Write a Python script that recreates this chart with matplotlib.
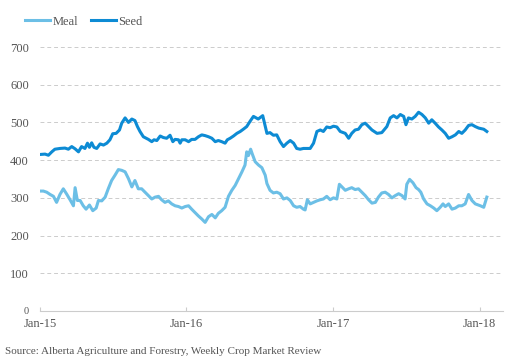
import numpy as np
import pandas as pd
import matplotlib
matplotlib.use("Agg")
import matplotlib.pyplot as plt
import matplotlib.dates as mdates

# Semanas desde el 1 de enero de 2015 y precios ($/t)
SEED_WEEKS = [0, 1.8, 3.0, 4.2, 5.3, 7.1, 8.9, 10.1, 11.3, 12.5, 13.7, 14.8, 16.0, 16.9,
              17.6, 18.4, 19.2, 20.2, 21.4, 22.6, 23.8, 24.9, 25.9, 27.1, 28.3, 29.1,
              30.3, 31.5, 32.7, 33.8, 34.7, 35.6, 36.8, 38.6, 39.8, 40.6, 41.6, 42.8,
              43.9, 45.1, 46.3, 47.3, 48.1, 49.3, 49.9, 50.5, 51.7, 52.9, 54.0, 55.2,
              56.4, 57.6, 58.8, 60.0, 61.2, 62.4, 63.5, 64.7, 65.9, 66.7, 67.7, 68.9,
              70.1, 71.3, 72.4, 73.6, 74.8, 76.0, 77.7, 79.3, 80.8, 81.9, 83.1, 84.3,
              85.5, 86.7, 87.9, 89.1, 90.3, 91.4, 92.6, 93.8, 95.0, 96.2, 97.4, 98.6,
              99.8, 100.9, 102.1, 103.3, 104.5, 105.7, 106.9, 108.7, 109.9, 111.0,
              112.2, 113.4, 114.6, 115.8, 117.0, 118.2, 120.0, 121.7, 123.5, 124.7,
              125.9, 127.1, 128.3, 129.5, 130.3, 131.2, 132.4, 133.6, 134.8, 136.0,
              137.2, 138.4, 139.5, 140.7, 141.9, 143.1, 144.3, 145.5, 146.7, 147.9,
              149.1, 150.2, 151.4, 152.6, 153.8, 155.0, 156.2, 158.0, 159.1]
SEED = [415, 416, 413, 422, 429, 431, 432, 429, 436, 430, 422, 436, 431, 445,
        434, 446, 434, 431, 443, 440, 445, 454, 470, 471, 480, 498,
        512, 500, 509, 505, 489, 476, 462, 455, 449, 454, 452, 464,
        460, 458, 466, 449, 455, 454, 445, 454, 454, 449, 455, 455,
        462, 467, 465, 462, 458, 449, 452, 449, 445, 454, 458, 464,
        471, 476, 482, 489, 503, 516, 509, 518, 471, 473, 466, 467,
        449, 436, 445, 452, 445, 431, 429, 431, 431, 431, 445, 476,
        480, 476, 488, 486, 490, 488, 476, 471, 458, 471,
        480, 482, 494, 498, 489, 480, 471, 473, 489, 512,
        518, 512, 521, 516, 494, 512, 509, 516, 527, 521,
        512, 498, 507, 498, 488, 480, 471, 458, 462, 467,
        476, 471, 480, 492, 494, 489, 485, 482, 476]

MEAL_WEEKS = [0, 1.2, 2.4, 3.6, 4.8, 5.9, 7.1, 8.3, 9.5, 10.7, 11.9, 12.5, 13.3, 14.3,
              15.4, 16.4, 17.6, 18.8, 20.0, 20.8, 22.0, 23.2, 24.3, 25.5, 26.7, 27.9,
              29.1, 30.3, 31.5, 32.7, 33.8, 35.0, 36.2, 37.4, 38.6, 39.8, 41.0, 42.2,
              43.3, 44.5, 45.7, 46.9, 48.1, 49.3, 50.5, 51.7, 52.9, 54.0, 55.2, 56.4,
              57.6, 58.8, 60.0, 61.2, 62.4, 63.5, 64.7, 65.9, 67.1, 68.3, 69.5, 70.7,
              71.9, 73.0, 73.6, 74.2, 75.0, 75.6, 76.6, 77.8, 79.0, 80.2, 80.8, 81.9,
              83.1, 84.3, 85.5, 86.7, 87.9, 89.1, 90.3, 91.4, 92.6, 93.8, 94.4, 95.2,
              96.2, 97.4, 98.6, 99.8, 100.9, 102.1, 103.3, 104.5, 105.7, 106.6, 107.5,
              108.7, 109.9, 111.0, 112.2, 113.4, 114.6, 115.8, 117.0, 118.2, 119.4,
              120.5, 121.7, 122.9, 124.1, 125.3, 126.5, 127.7, 128.9, 130.0, 130.6,
              131.6, 132.8, 133.9, 134.8, 135.6, 136.6, 137.8, 139.0, 140.2, 141.3,
              142.5, 143.5, 144.3, 145.5, 146.7, 147.9, 149.1, 150.2, 151.4, 152.6,
              153.8, 155.0, 156.8, 158.0, 159.1]
MEAL = [318, 318, 315, 309, 304, 288, 309, 324, 310, 295, 279, 327, 293, 293,
        279, 270, 281, 266, 273, 293, 292, 302, 324, 346, 360, 375,
        373, 369, 351, 329, 346, 324, 324, 315, 306, 297, 302, 304,
        295, 288, 292, 284, 279, 277, 273, 277, 279, 270, 261, 252,
        244, 235, 250, 256, 247, 259, 266, 275, 304, 320, 333, 351,
        369, 387, 422, 412, 429, 416, 396, 387, 380, 360, 338, 320,
        313, 315, 311, 297, 300, 293, 279, 275, 277, 270, 268, 295,
        284, 288, 292, 295, 297, 304, 295, 300, 297, 336, 329,
        320, 324, 327, 322, 324, 315, 306, 295, 286, 288,
        302, 313, 315, 309, 300, 306, 311, 306, 297, 336,
        349, 340, 327, 322, 315, 297, 284, 279, 273, 266,
        275, 284, 277, 284, 270, 273, 279, 279, 284, 309,
        293, 284, 279, 275, 302]

Y_TICKS = [0, 100, 200, 300, 400, 500, 600, 700]
X_TICKS = ["2015-01-01", "2016-01-01", "2017-01-01", "2018-01-01"]
SOURCE = "Source: Alberta Agriculture and Forestry, Weekly Crop Market Review"

COLOR_MEAL = "#6cbfe6"
COLOR_SEED = "#0d8bd4"
GRIS = "#555555"

plt.rcParams["font.family"] = ["Liberation Serif", "DejaVu Serif"]


def a_fechas(semanas):
    inicio = pd.Timestamp("2015-01-01")
    return inicio + pd.to_timedelta(np.array(semanas) * 7, unit="D")


fig = plt.figure(figsize=(5.07, 3.56), dpi=100)
ax = fig.add_axes([40 / 507, 1 - 311 / 356, 463 / 507, 264 / 356])

ax.plot(a_fechas(MEAL_WEEKS), MEAL, color=COLOR_MEAL, lw=2.2, label="Meal",
        solid_joinstyle="round")
ax.plot(a_fechas(SEED_WEEKS), SEED, color=COLOR_SEED, lw=2.2, label="Seed",
        solid_joinstyle="round")

ax.set_ylim(0, 700)
ax.set_xlim(pd.Timestamp("2015-01-01"), pd.Timestamp("2018-02-28"))
ax.set_yticks(Y_TICKS)
ax.set_xticks(pd.to_datetime(X_TICKS))
ax.xaxis.set_major_formatter(mdates.DateFormatter("Jan-%y"))

for v in Y_TICKS[1:]:
    ax.axhline(v, color="#cccccc", lw=0.7, ls=(0, (4, 3)), zorder=0)

for lado in ["top", "right", "left"]:
    ax.spines[lado].set_visible(False)
ax.spines["bottom"].set_color("#cccccc")
ax.spines["bottom"].set_linewidth(0.8)

ax.tick_params(axis="y", length=0, pad=8, labelsize=9, labelcolor=GRIS)
ax.tick_params(axis="x", direction="in", length=3, color="#cccccc",
               pad=5, labelsize=9, labelcolor=GRIS)

# el "0" va mas chico (como en el original) para no pisar "Jan-15"
for lbl in ax.get_yticklabels():
    if lbl.get_text() == "0":
        lbl.set_fontsize(7.5)

ax.legend(loc="center left", bbox_to_anchor=(-15 / 463, 1.096),
          ncol=2, frameon=False, fontsize=9, handlelength=2.0,
          handletextpad=0.2, columnspacing=1.0, labelcolor=GRIS,
          borderpad=0, borderaxespad=0)

fig.text(5 / 507, 1 - 352 / 356, SOURCE, fontsize=8, color=GRIS,
         ha="left", va="center")

fig.savefig("out.png", dpi=100)
